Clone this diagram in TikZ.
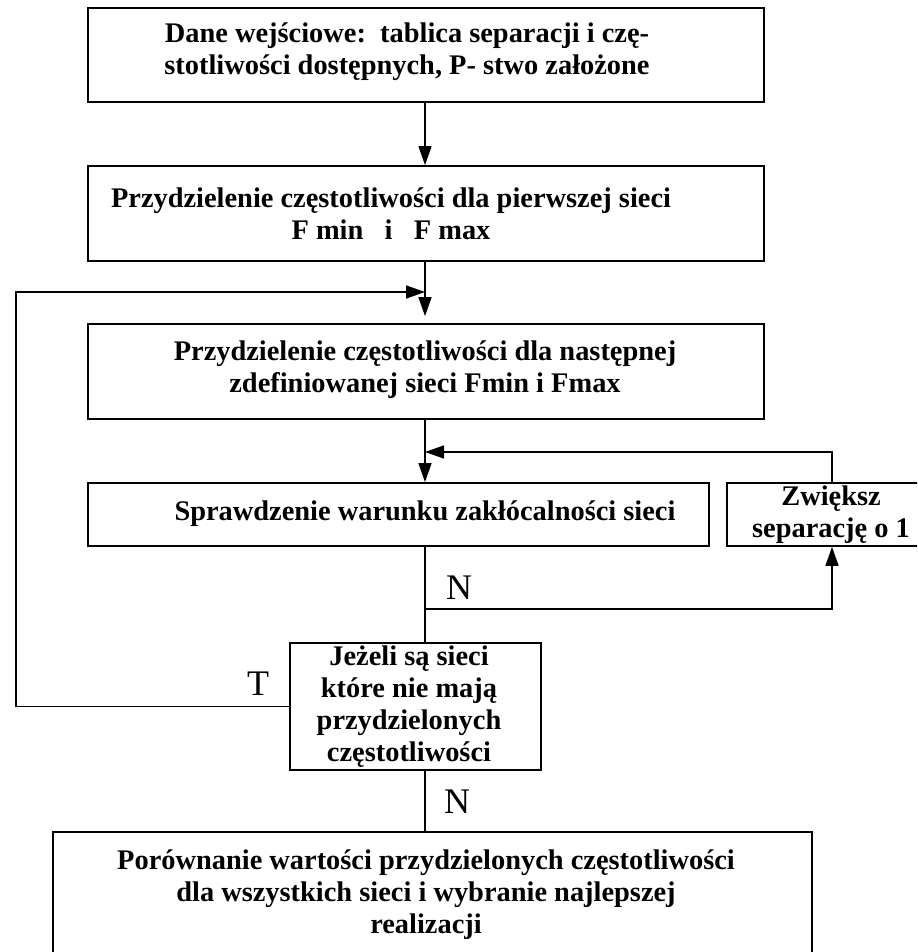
\documentclass[tikz,border=0pt]{standalone}
\usepackage{fontspec}
\setmainfont{Liberation Serif}
\usetikzlibrary{positioning,calc,arrows.meta}

\begin{document}
\begin{tikzpicture}[x=0.5pt,y=-0.5pt,
		box/.style={draw,line width=0.9pt,inner sep=0pt},
		txt/.style={align=center,font=\fontsize{14.2}{16}\selectfont\bfseries,inner sep=0pt},
		lab/.style={font=\fontsize{18}{18}\selectfont,inner sep=0pt},
		arr/.style={-{Triangle[length=9.5pt,width=6.5pt]}},
		line width=0.75pt]
		\useasboundingbox (0,0) rectangle (917,952);
		\clip (0,0) rectangle (917,952);
		
		\node[box,minimum width=338pt,minimum height=47pt] (b1) at (426,55) {};
		\node[box,minimum width=338pt,minimum height=47.5pt] (b2) at (426,213.5) {};
		\node[box,minimum width=338pt,minimum height=47.5pt] (b3) at (426,371.5) {};
		\node[box,minimum width=310.5pt,minimum height=31.5pt] (b4) at (398.5,514.5) {};
		\node[box,minimum width=105pt,minimum height=31.5pt] (b5) at (832,514.5) {};
		\node[box,minimum width=125.5pt,minimum height=63.5pt] (dec) at (415.5,706.5) {};
		\node[box,minimum width=379.5pt,minimum height=79pt] (b6) at (432.5,911) {};
		
		\node[txt] (t1) at (407,52) {Dane wejściowe:\ \ tablica separacji i czę-\\stotliwości dostępnych, P- stwo założone};
		\node[txt] (t2) at (391,214) {Przydzielenie częstotliwości dla pierwszej sieci\\F min\ \ \ i\ \ \ F max};
		\node[txt] (t3) at (425,370) {Przydzielenie częstotliwości dla następnej\\zdefiniowanej sieci Fmin i Fmax};
		\node[txt] (t4) at (425,514) {Sprawdzenie warunku zakłócalności sieci};
		\node[txt] (t5) at (831,515) {Zwiększ\\separację o 1};
		\node[txt] (t6) at (409,707) {Jeżeli są sieci\\które nie mają\\przydzielonych\\częstotliwości};
		\node[txt] (t7) at (426,895) {Porównanie wartości przydzielonych częstotliwości\\dla wszystkich sieci i wybranie najlepszej\\realizacji};
		
		\node[lab] (n1) at (459,588) {N};
		\node[lab] (n2) at (457,802) {N};
		\node[lab] (tt) at (258,684) {T};
		
		\coordinate (lp) at (425,292);
		\coordinate (fb) at (425,452);
		\coordinate (nb) at (425,609);
		
		\draw[arr] (b1.south -| lp) -- (b2.north -| lp);
		\draw[arr,shorten >=3.5pt] (b2.south -| lp) -- (b3.north -| lp);
		\draw[arr] (dec.west) -- (16,706.5) -- (16,292) -- (lp);
		\draw[arr] (b3.south -| lp) -- (b4.north -| lp);
		\draw[arr] (b5.north) |- (fb);
		\draw (b4.south -| lp) -- (dec.north -| lp);
		\draw[arr] (nb) -| (b5.south);
		\draw (dec.south -| lp) -- (b6.north -| lp);
	\end{tikzpicture}
\end{document}
